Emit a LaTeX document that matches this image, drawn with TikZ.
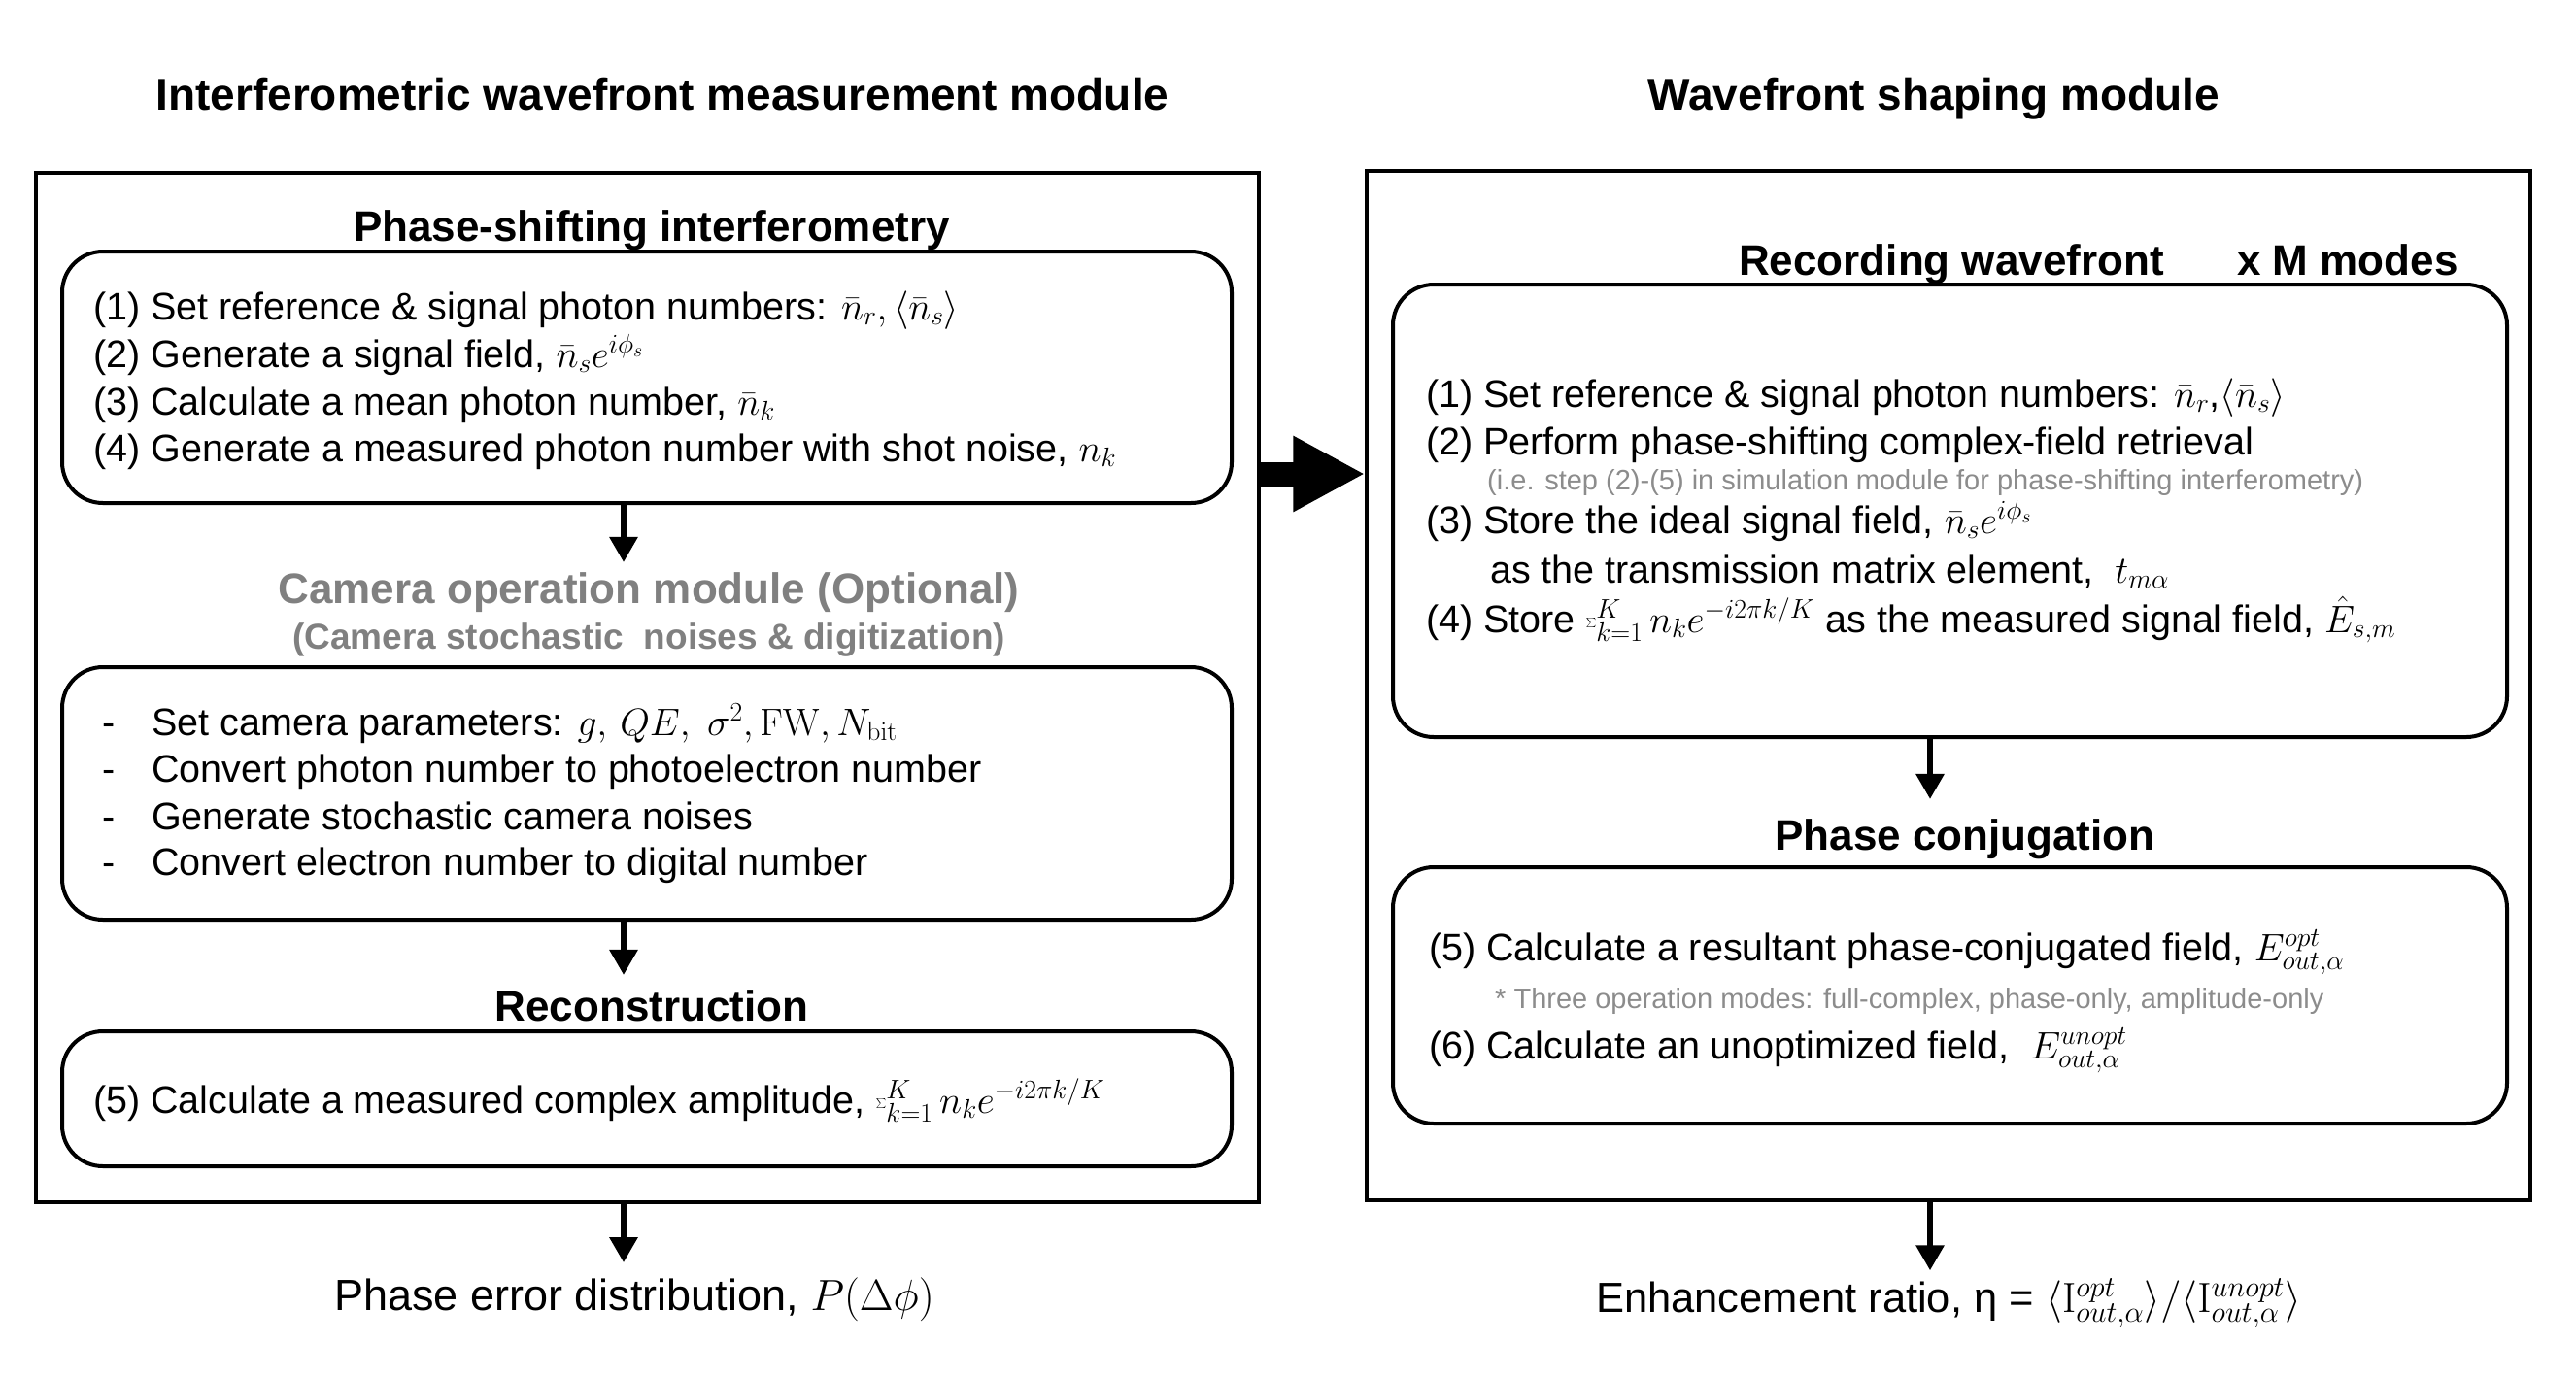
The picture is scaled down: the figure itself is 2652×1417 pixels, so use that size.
\RequirePackage{fix-cm}
\documentclass[tikz,border=0pt]{standalone}
\usepackage[no-math]{fontspec}
\setmainfont{Liberation Sans}
\usetikzlibrary{arrows.meta}
\definecolor{camgray}{HTML}{808080}
\definecolor{notegray}{HTML}{8C8C8C}
\begin{document}
\begin{tikzpicture}[x=1pt,y=-1pt,
  body/.style={font=\fontsize{39.5}{46}\selectfont, anchor=base west, inner sep=0pt},
  note/.style={font=\fontsize{29}{34}\selectfont, text=notegray, anchor=base west, inner sep=0pt},
  otitle/.style={font=\bfseries\fontsize{46}{54}\selectfont, anchor=base, inner sep=0pt},
  ititle/.style={font=\bfseries\fontsize{44}{52}\selectfont, anchor=base, inner sep=0pt},
  rbox/.style={draw, line width=4pt, rounded corners=42pt, inner sep=0pt},
  obox/.style={draw, line width=3.5pt, inner sep=0pt},
  arr/.style={line width=6pt, -{Triangle[length=26pt,width=28pt]}},
  bigarr/.style={line width=25pt, -{Triangle[length=74pt,width=73pt]}}]
\useasboundingbox (0,0) rectangle (2652,1417);

% outer titles
\node[otitle] (tl) at (682,113) {Interferometric wavefront measurement module};
\node[otitle] (tr) at (1991,113) {Wavefront shaping module};

% outer boxes
\node[obox, minimum width=1259pt, minimum height=1060pt] (L) at (666.5,708) {};
\node[obox, minimum width=1198pt, minimum height=1060pt] (R) at (2006,706) {};

% ---------- left module ----------
\node[ititle] (psiT) at (671,248) {Phase-shifting interferometry};
\node[rbox, minimum width=1204pt, minimum height=259pt] (b1) at (666,388.5) {};
\node[body] (l11) at (96,329) {(1) Set reference \& signal photon numbers: $\bar{n}_r,\langle\bar{n}_s\rangle$};
\node[body] (l12) at (96,378) {(2) Generate a signal field, $\bar{n}_s e^{i\phi_s}$};
\node[body] (l13) at (96,427) {(3) Calculate a mean photon number, $\bar{n}_k$};
\node[body] (l14) at (96,475) {(4) Generate a measured photon number with shot noise, $n_k$};

\node[ititle, text=camgray] (camT) at (668,621) {Camera operation module (Optional)};
\node[font=\bfseries\fontsize{37}{44}\selectfont, text=camgray, anchor=base, inner sep=0pt] (camS) at (668,668) {(Camera stochastic\ \ noises \& digitization)};
\node[rbox, minimum width=1204pt, minimum height=260pt] (b2) at (666,817) {};
\node[body] (d21) at (105,757) {-};
\node[body] (l21) at (156,757) {Set camera parameters: $g,\,QE,\ \sigma^2,\mathrm{FW},N_{\mathrm{bit}}$};
\node[body] (d22) at (105,805) {-};
\node[body] (l22) at (156,805) {Convert photon number to photoelectron number};
\node[body] (d23) at (105,854) {-};
\node[body] (l23) at (156,854) {Generate stochastic camera noises};
\node[body] (d24) at (105,901) {-};
\node[body] (l24) at (156,901) {Convert electron number to digital number};

\node[ititle] (recT) at (671,1051) {Reconstruction};
\node[rbox, minimum width=1204pt, minimum height=139pt] (b3) at (666,1131.5) {};
\node[body] (l31) at (96,1146) {(5) Calculate a measured complex amplitude, $\sum_{k=1}^{K} n_k e^{-i2\pi k/K}$};

\node[font=\fontsize{45}{52}\selectfont, anchor=base, inner sep=0pt] (outL) at (653,1349) {Phase error distribution, $P(\Delta\phi)$};

% ---------- right module ----------
\node[ititle] (recwT) at (2009,283) {Recording wavefront};
\node[ititle] (modes) at (2417,283) {x M modes};
\node[rbox, minimum width=1147pt, minimum height=466pt] (b4) at (2007.5,526) {};
\node[body] (l41) at (1468,419) {(1) Set reference \& signal photon numbers: $\bar{n}_r$,$\langle\bar{n}_s\rangle$};
\node[body] (l42) at (1468,468) {(2) Perform phase-shifting complex-field retrieval};
\node[note] (n43) at (1531,504) {(i.e. step (2)-(5) in simulation module for phase-shifting interferometry)};
\node[body] (l44) at (1468,549) {(3) Store the ideal signal field, $\bar{n}_s e^{i\phi_s}$};
\node[body] (l45) at (1534,600) {as the transmission matrix element,\ \ $t_{m\alpha}$};
\node[body] (l46) at (1468,651) {(4) Store $\sum_{k=1}^{K} n_k e^{-i2\pi k/K}$ as the measured signal field, $\hat{E}_{s,m}$};

\node[ititle] (pcT) at (2023,875) {Phase conjugation};
\node[rbox, minimum width=1147pt, minimum height=264pt] (b5) at (2007.5,1025) {};
\node[body] (l51) at (1471,989) {(5) Calculate a resultant phase-conjugated field, $E^{opt}_{out,\alpha}$};
\node[note] (n52) at (1539,1038) {* Three operation modes: full-complex, phase-only, amplitude-only};
\node[body] (l53) at (1471,1090) {(6) Calculate an unoptimized field,\ \ $E^{unopt}_{out,\alpha}$};

\node[font=\fontsize{43.5}{50}\selectfont, anchor=base, inner sep=0pt] (outR) at (2006,1351) {Enhancement ratio, η = $\langle\mathrm{I}^{opt}_{out,\alpha}\rangle/\langle\mathrm{I}^{unopt}_{out,\alpha}\rangle$};

% ---------- connectors ----------
\coordinate (axL) at (642,0);
\coordinate (axR) at (1987,0);
\coordinate (ya) at (0,488);
\draw[arr] (b1.south -| axL) -- ([yshift=10pt]camT.north -| axL);
\draw[arr] (b2.south -| axL) -- ([yshift=15pt]recT.north -| axL);
\draw[arr] (L.south -| axL) -- ([yshift=15pt]outL.north -| axL);
\draw[arr] (b4.south -| axR) -- ([yshift=20pt]pcT.north -| axR);
\draw[arr] (R.south -| axR) -- ([yshift=8pt]outR.north -| axR);
\draw[bigarr] (L.east |- ya) -- (R.west |- ya);
\end{tikzpicture}
\end{document}
